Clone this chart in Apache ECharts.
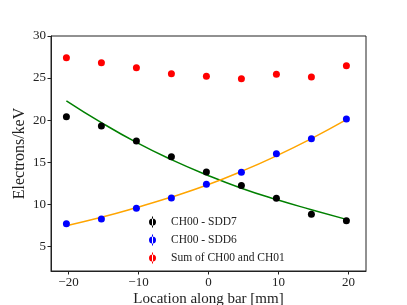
<!DOCTYPE html>
<html><head><meta charset="utf-8">
<script src="https://cdn.jsdelivr.net/npm/echarts@6/dist/echarts.min.js"></script>
<style>html,body{margin:0;padding:0;background:#fff}#c{width:407px;height:305px}</style>
</head><body><div id="c"></div>
<script>
const positions = [-20.3, -15.3, -10.3, -5.3, -0.3, 4.7, 9.7, 14.7, 19.7];
const sdd7 = [20.41, 19.3, 17.51, 15.65, 13.83, 12.24, 10.7, 8.8, 8.04];
const sdd6 = [7.68, 8.24, 9.51, 10.74, 12.37, 13.79, 16.0, 17.79, 20.13];
const sumCh = [27.42, 26.83, 26.23, 25.52, 25.2, 24.93, 25.44, 25.12, 26.47];
const fitSdd7 = [22.3, 19.7, 17.35, 15.3, 13.5, 11.9, 10.55, 9.35, 8.2];
const fitSdd6 = [7.45, 8.45, 9.6, 10.85, 12.25, 13.9, 15.75, 17.8, 20.05];
const xTicks = [-20, -10, 0, 10, 20];
const yTicks = [5, 10, 15, 20, 25, 30];
const names = ['CH00 - SDD7', 'CH00 - SDD6', 'Sum of CH00 and CH01'];

const pair = (xs, ys) => xs.map((x, i) => [x, ys[i]]);
const font = 'Liberation Serif';
const icon = 'path://M3,0h1v11h-1z M0,5.5a3.5,3.5 0 1,0 7,0a3.5,3.5 0 1,0 -7,0z';

const chart = echarts.init(document.getElementById('c'), null, {renderer: 'canvas'});
chart.setOption({
  animation: false,
  backgroundColor: '#fff',
  textStyle: {fontFamily: font},
  grid: {left: 51, top: 36, right: 41, bottom: 34, containLabel: false, outerBoundsMode: 'none',
    show: true, borderColor: '#222', borderWidth: 1},
  xAxis: {
    type: 'value', min: -22.5, max: 22.5,
    axisLine: {show: true, onZero: false, lineStyle: {color: '#222', width: 1}},
    axisTick: {show: true, customValues: xTicks, length: 3.5, lineStyle: {color: '#222'}},
    axisLabel: {customValues: xTicks, color: '#222', fontSize: 13, fontFamily: font, margin: 5,
      formatter: v => String(v).replace('-', '\u2212')},
    splitLine: {show: false},
    name: 'Location along bar [mm]', nameLocation: 'middle', nameGap: 21, nameMoveOverlap: false,
    nameTextStyle: {fontSize: 15, color: '#222', fontFamily: font}
  },
  yAxis: {
    type: 'value', min: 2.06, max: 30,
    axisLine: {show: true, onZero: false, lineStyle: {color: '#222', width: 1}},
    axisTick: {show: true, customValues: yTicks, length: 3.5, lineStyle: {color: '#222'}},
    axisLabel: {customValues: yTicks, color: '#222', fontSize: 13, fontFamily: font, margin: 5},
    splitLine: {show: false},
    name: 'Electrons/keV', nameLocation: 'middle', nameGap: 23, nameRotate: 90, nameMoveOverlap: false,
    nameTextStyle: {fontSize: 16, color: '#222', fontFamily: font}
  },
  legend: {
    data: names, orient: 'vertical', left: 144, top: 211,
    icon: icon, itemWidth: 7, itemHeight: 11, itemGap: 6,
    textStyle: {fontSize: 11.5, color: '#222', fontFamily: font, padding: [0, 0, 0, 10]}
  },
  series: [
    {type: 'line', data: pair(positions, fitSdd7), smooth: true, symbol: 'none',
      lineStyle: {color: '#008000', width: 1.5}, z: 2, silent: true},
    {type: 'line', data: pair(positions, fitSdd6), smooth: true, symbol: 'none',
      lineStyle: {color: '#ffa500', width: 1.5}, z: 2, silent: true},
    {name: names[0], type: 'scatter', data: pair(positions, sdd7), symbolSize: 7,
      itemStyle: {color: '#000', opacity: 1}, z: 3},
    {name: names[1], type: 'scatter', data: pair(positions, sdd6), symbolSize: 7,
      itemStyle: {color: '#0000ff', opacity: 1}, z: 3},
    {name: names[2], type: 'scatter', data: pair(positions, sumCh), symbolSize: 7,
      itemStyle: {color: '#ff0000', opacity: 1}, z: 3}
  ]
});
</script></body></html>
